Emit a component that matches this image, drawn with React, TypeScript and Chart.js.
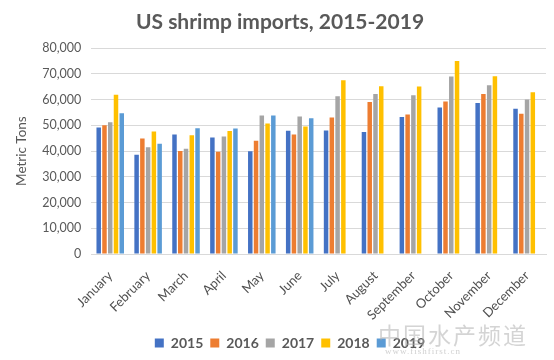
import React, { useEffect, useRef } from "react";
import { Chart, registerables } from "chart.js";

Chart.register(...registerables);

const months = [
  "January", "February", "March", "April", "May", "June",
  "July", "August", "September", "October", "November", "December",
];

const y2015 = [49200, 38600, 46500, 45300, 39900, 47900, 48000, 47400, 53300, 57000, 58700, 56500];
const y2016 = [50100, 44900, 40000, 39800, 44000, 46500, 53100, 59100, 54200, 59300, 62200, 54500];
const y2017 = [51200, 41500, 40900, 45700, 53800, 53500, 61300, 62200, 61700, 69000, 65600, 60100];
const y2018 = [61900, 47600, 46200, 47800, 50700, 49600, 67500, 65200, 65100, 75000, 69100, 62900];
const y2019 = [54700, 42900, 48900, 48800, 53800, 52800, null, null, null, null, null, null];

const seriesNames = ["2015", "2016", "2017", "2018", "2019"];
const seriesColors = ["#4472C4", "#ED7D31", "#A5A5A5", "#FFC000", "#5B9BD5"];

const FONT = "Lato, 'DejaVu Sans', sans-serif";

const legendShift = {
  id: "legendShift",
  afterLayout(chart: any) {
    if (chart.legend) {
      chart.legend.left += 10;
      chart.legend.right += 10;
    }
  },
};

export default function App() {
  const ref = useRef<HTMLCanvasElement | null>(null);

  useEffect(() => {
    if (!ref.current) return;
    const values = [y2015, y2016, y2017, y2018, y2019];
    const chart = new Chart(ref.current, {
      type: "bar",
      data: {
        labels: months,
        datasets: values.map((v, i) => ({
          label: seriesNames[i],
          data: v,
          backgroundColor: seriesColors[i],
          borderWidth: 0,
          categoryPercentage: 0.76,
          barPercentage: 0.78,
        })),
      },
      options: {
        animation: false,
        responsive: false,
        maintainAspectRatio: false,
        layout: { padding: { left: 14, right: 8, top: 2, bottom: 0 } },
        plugins: {
          title: {
            display: true,
            text: "US shrimp imports, 2015-2019",
            color: "#595959",
            font: { family: FONT, size: 21, weight: "bold" },
            padding: { top: 8, bottom: 13 },
          },
          legend: {
            position: "bottom",
            labels: {
              boxWidth: 9,
              boxHeight: 9,
              color: "#595959",
              font: { family: FONT, size: 14, weight: "bold" },
              padding: 7,
            },
          },
          tooltip: { enabled: false },
        },
        scales: {
          x: {
            grid: { display: false },
            border: { color: "#D9D9D9" },
            ticks: {
              color: "#505050",
              font: { family: FONT, size: 13 },
              minRotation: 45,
              maxRotation: 45,
              padding: 6,
            },
          },
          y: {
            min: 0,
            max: 80000,
            grid: { color: "#D9D9D9", drawTicks: false },
            border: { display: false },
            ticks: {
              stepSize: 10000,
              color: "#595959",
              font: { family: FONT, size: 12.5 },
              padding: 10,
              callback: (v: any) => Number(v).toLocaleString("en-US"),
            },
            title: {
              display: true,
              text: "Metric Tons",
              color: "#595959",
              font: { family: FONT, size: 13.5 },
              padding: { top: 0, bottom: 2 },
            },
          },
        },
      },
      plugins: [legendShift],
    });
    return () => chart.destroy();
  }, []);

  return (
    <div style={{ position: "fixed", left: 0, top: 0, width: 554, height: 360, background: "#fff" }}>
      <canvas ref={ref} width={554} height={360} />
      <div
        style={{
          position: "absolute",
          left: 378,
          top: 322,
          fontFamily: "'Noto Sans CJK SC', sans-serif",
          fontSize: 23,
          color: "rgba(170,170,170,0.5)",
          letterSpacing: 2,
          lineHeight: "24px",
          whiteSpace: "nowrap",
        }}
      >
        中国水产频道
      </div>
      <div
        style={{
          position: "absolute",
          left: 385,
          top: 346,
          fontFamily: "serif",
          fontSize: 9,
          letterSpacing: 1,
          color: "rgba(170,170,170,0.55)",
          whiteSpace: "nowrap",
        }}
      >
        www.fishfirst.cn
      </div>
    </div>
  );
}
